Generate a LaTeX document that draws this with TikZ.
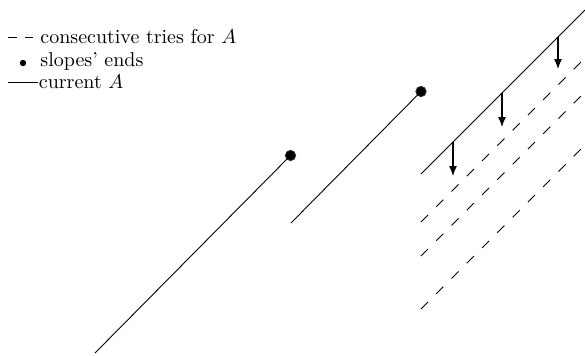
\documentclass[tikz,border=0pt]{standalone}
\usetikzlibrary{arrows.meta}
\tikzset{
  slope/.style={line width=0.45pt},
  trydash/.style={line width=0.45pt, dash pattern=on 5pt off 5.8pt},
  endpt/.style={circle, fill=black, draw=black!80, line width=0.4pt, inner sep=0pt, minimum size=5.2pt},
  legdot/.style={circle, fill=black, inner sep=0pt, minimum size=3.2pt},
  legtext/.style={anchor=base west, inner sep=0pt, font=\normalsize},
  push/.style={line width=0.6pt, -{Latex[length=5pt,width=4pt]}}
}
\begin{document}
\begin{tikzpicture}[x=0.5pt, y=-0.5pt]
\useasboundingbox (0,0) rectangle (585,355);
% legend
\coordinate (d1a) at (8,37); \coordinate (d1b) at (17,37);
\coordinate (d2a) at (25,37); \coordinate (d2b) at (33,37);
\draw[slope] (d1a) -- (d1b);
\draw[slope] (d2a) -- (d2b);
\node[legtext] (t1) at (40,43) {consecutive tries for $A$};
\node[legdot] (ld) at (23,63) {};
\node[legtext] (t2) at (40,66) {slopes' ends};
\coordinate (la) at (8,82); \coordinate (lb) at (38,82);
\draw[slope] (la) -- (lb);
\node[legtext] (t3) at (38.5,88) {current $A$};
% slope 1
\coordinate (s1a) at (95,353);
\node[endpt] (e1) at (290.5,155.5) {};
\draw[slope] (s1a) -- (e1.center);
% slope 2
\coordinate (s2a) at (291,223);
\node[endpt] (e2) at (421,91.5) {};
\draw[slope] (s2a) -- (e2.center);
% current A
\coordinate (ca) at (421,174); \coordinate (cb) at (585,10);
\draw[slope] (ca) -- (cb);
% tries
\coordinate (ta) at (421,222); \coordinate (tb) at (585,58);
\coordinate (ua) at (421,256); \coordinate (ub) at (585,92);
\coordinate (va) at (421,309); \coordinate (vb) at (585,145);
\draw[trydash] (ta) -- (tb);
\draw[trydash] (ua) -- (ub);
\draw[trydash] (va) -- (vb);
% arrows
\coordinate (a1) at (453,142); \coordinate (a1e) at (453,176);
\coordinate (a2) at (502,93); \coordinate (a2e) at (502,127);
\coordinate (a3) at (558,37); \coordinate (a3e) at (558,69);
\draw[push] (a1) -- (a1e);
\draw[push] (a2) -- (a2e);
\draw[push] (a3) -- (a3e);
\end{tikzpicture}
\end{document}
